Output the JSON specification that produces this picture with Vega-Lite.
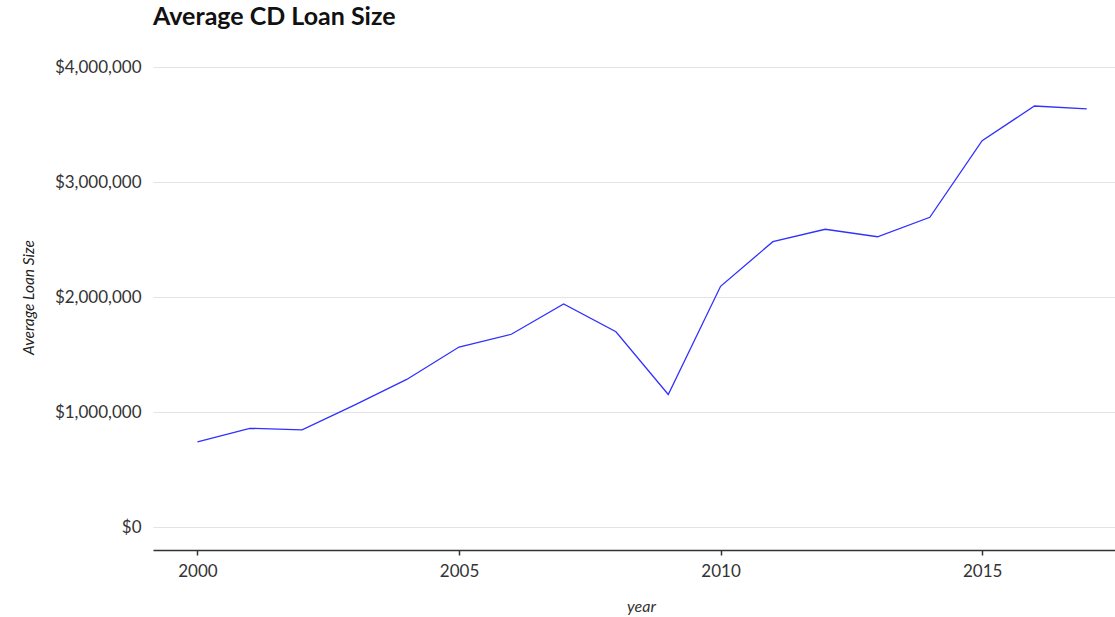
{
  "$schema": "https://vega.github.io/schema/vega-lite/v6.json",
  "width": 962,
  "height": 506,
  "autosize": "none",
  "padding": {"left": 153, "top": 44, "right": 0, "bottom": 67},
  "background": "white",
  "config": {
    "view": {"stroke": null},
    "font": "Lato"
  },
  "title": {
    "text": "Average CD Loan Size",
    "anchor": "start",
    "frame": "group",
    "font": "Lato",
    "fontSize": 25,
    "fontWeight": "bold",
    "color": "#111111",
    "baseline": "alphabetic",
    "offset": -6
  },
  "data": {
    "values": [
      {"year": 2000, "avg": 740000},
      {"year": 2001, "avg": 858000},
      {"year": 2002, "avg": 845000},
      {"year": 2003, "avg": 1060000},
      {"year": 2004, "avg": 1283000},
      {"year": 2005, "avg": 1565000},
      {"year": 2006, "avg": 1676000},
      {"year": 2007, "avg": 1940000},
      {"year": 2008, "avg": 1698000},
      {"year": 2009, "avg": 1152000},
      {"year": 2010, "avg": 2093000},
      {"year": 2011, "avg": 2481000},
      {"year": 2012, "avg": 2589000},
      {"year": 2013, "avg": 2524000},
      {"year": 2014, "avg": 2693000},
      {"year": 2015, "avg": 3359000},
      {"year": 2016, "avg": 3661000},
      {"year": 2017, "avg": 3635000}
    ]
  },
  "mark": {"type": "line", "color": "#3030ff", "strokeWidth": 1.3, "clip": true},
  "encoding": {
    "x": {
      "field": "year",
      "type": "quantitative",
      "scale": {"domain": [1999.15, 2017.54], "nice": false, "zero": false},
      "axis": {
        "values": [2000, 2005, 2010, 2015],
        "format": "d",
        "title": "year",
        "grid": false,
        "domain": true,
        "domainColor": "#333333",
        "domainWidth": 1.5,
        "ticks": true,
        "tickColor": "#333333",
        "tickSize": 5,
        "tickWidth": 1.5,
        "labelFont": "Lato",
        "labelFontSize": 17,
        "labelColor": "#333333",
        "labelPadding": 8,
        "titleFont": "Lato",
        "titleFontSize": 16,
        "titleFontStyle": "italic",
        "titleFontWeight": "normal",
        "titleColor": "#333333",
        "titleX": 488,
        "titleY": 56,
        "titleBaseline": "middle",
        "titleAlign": "center"
      }
    },
    "y": {
      "field": "avg",
      "type": "quantitative",
      "scale": {"domain": [-200000, 4200000], "nice": false, "zero": false},
      "axis": {
        "values": [0, 1000000, 2000000, 3000000, 4000000],
        "format": "$,.0f",
        "title": "Average Loan Size",
        "grid": true,
        "gridColor": "#e3e3e3",
        "gridWidth": 1,
        "domain": false,
        "ticks": false,
        "labelFont": "Lato",
        "labelFontSize": 17,
        "labelColor": "#333333",
        "labelPadding": 12,
        "titleFont": "Lato",
        "titleFontSize": 15.5,
        "titleFontStyle": "italic",
        "titleFontWeight": "normal",
        "titleColor": "#222222",
        "titleX": -125,
        "titleY": 253,
        "titleAngle": -90,
        "titleAlign": "center",
        "titleBaseline": "middle"
      }
    }
  }
}
